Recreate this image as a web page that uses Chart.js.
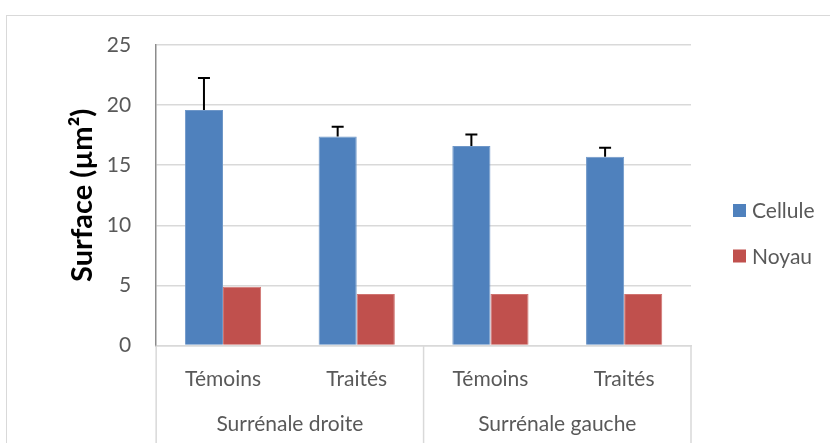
<!DOCTYPE html>
<html>
<head>
<meta charset="utf-8">
<script src="https://cdn.jsdelivr.net/npm/chart.js@4"></script>
<style>
  html, body { margin: 0; padding: 0; background: #fff; }
  #frame { position: absolute; left: 6px; top: 15px; width: 900px; height: 500px;
           border-left: 1px solid #d9d9d9; border-top: 1px solid #d9d9d9; }
  #wrap { position: absolute; left: 0; top: 0; width: 830px; height: 443px; }
</style>
</head>
<body>
<div id="frame"></div>
<div id="wrap"><canvas id="surfChart"></canvas></div>
<script>
// data
const categories = ['Témoins', 'Traités', 'Témoins', 'Traités'];
const groups = ['Surrénale droite', 'Surrénale gauche'];
const cellule = [19.6, 17.4, 16.6, 15.7];
const celluleErr = [2.65, 0.8, 0.95, 0.75];
const noyau = [4.9, 4.3, 4.3, 4.3];
const yTicks = [0, 5, 10, 15, 20, 25];

const textColor = '#595959';
const fontFam = 'Lato, "Noto Sans", sans-serif';

// error bars (upward only) on the Cellule series
const errorBars = {
  id: 'errorBars',
  afterDatasetsDraw(chart) {
    const ctx = chart.ctx;
    const meta = chart.getDatasetMeta(0);
    const y = chart.scales.y;
    ctx.save();
    ctx.strokeStyle = '#000';
    ctx.lineWidth = 2;
    meta.data.forEach(function (bar, i) {
      const yTop = y.getPixelForValue(cellule[i] + celluleErr[i]);
      ctx.beginPath();
      ctx.moveTo(bar.x, bar.y);
      ctx.lineTo(bar.x, yTop);
      ctx.moveTo(bar.x - 6, yTop);
      ctx.lineTo(bar.x + 6, yTop);
      ctx.stroke();
    });
    ctx.restore();
  }
};

// group separators under the category axis + legend on the right
const extras = {
  id: 'extras',
  afterDraw(chart) {
    const ctx = chart.ctx;
    const area = chart.chartArea;
    const x = chart.scales.x;
    ctx.save();
    ctx.strokeStyle = '#d9d9d9';
    ctx.lineWidth = 1.5;
    const mid = (x.getPixelForValue(1) + x.getPixelForValue(2)) / 2;
    [area.left, mid, area.right].forEach(function (px) {
      ctx.beginPath();
      ctx.moveTo(px, area.bottom);
      ctx.lineTo(px, chart.height);
      ctx.stroke();
    });

    // legend
    ctx.font = '21px ' + fontFam;
    ctx.textBaseline = 'middle';
    ctx.textAlign = 'left';
    chart.data.datasets.forEach(function (ds, i) {
      const cy = 210.5 + i * 45.5;
      const lx = area.right + 42;
      ctx.fillStyle = ds.backgroundColor;
      ctx.fillRect(lx, cy - 6.5, 13, 13);
      ctx.fillStyle = textColor;
      ctx.fillText(ds.label, lx + 19, cy + 1);
    });
    ctx.restore();
  }
};

const ctx1 = document.getElementById('surfChart');

const surfChart = new Chart(ctx1, {
  type: 'bar',
  data: {
    labels: categories,
    datasets: [
      {
        label: 'Cellule',
        data: cellule,
        backgroundColor: '#4f81bd',
        borderColor: '#6f97c8',
        borderWidth: 1
      },
      {
        label: 'Noyau',
        data: noyau,
        backgroundColor: '#c0504d',
        borderColor: '#d07370',
        borderWidth: 1
      }
    ]
  },
  options: {
    responsive: true,
    maintainAspectRatio: false,
    animation: false,
    categoryPercentage: 0.57,
    barPercentage: 1.0,
    layout: {
      padding: { left: 65, right: 139, top: 45, bottom: 7 }
    },
    plugins: {
      legend: { display: false },
      tooltip: { enabled: false }
    },
    scales: {
      x: {
        grid: { display: false },
        border: { display: true, color: '#d9d9d9', width: 1.5 },
        ticks: { color: textColor, padding: 13, font: { family: fontFam, size: 21 } }
      },
      x2: {
        type: 'category',
        labels: groups,
        offset: true,
        position: 'bottom',
        grid: { display: false },
        border: { display: false },
        ticks: { color: textColor, padding: -1, font: { family: fontFam, size: 21 } }
      },
      y: {
        min: 0,
        max: 25,
        afterBuildTicks(scale) {
          scale.ticks = yTicks.map(function (v) { return { value: v }; });
        },
        grid: { color: '#d9d9d9', lineWidth: 1.5, drawTicks: false },
        border: { display: true, color: '#8c8c8c', width: 1.5 },
        ticks: { color: textColor, padding: 25, font: { family: fontFam, size: 21 } },
        title: {
          display: true,
          text: 'Surface (µm²)',
          color: '#000',
          padding: { top: 0, bottom: -18 },
          font: { family: fontFam, size: 29, weight: 'bold' }
        }
      }
    }
  },
  plugins: [errorBars, extras]
});
</script>
</body>
</html>
